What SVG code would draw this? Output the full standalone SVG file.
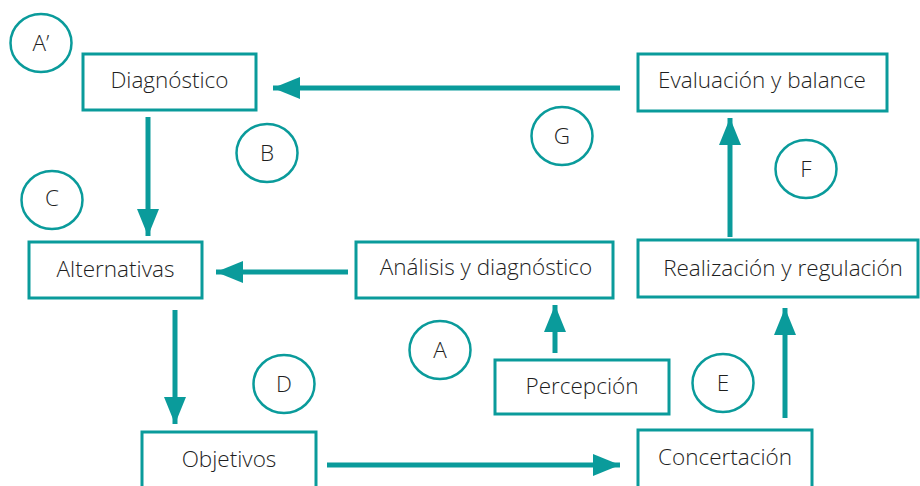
<svg xmlns="http://www.w3.org/2000/svg" width="920" height="486" viewBox="0 0 920 486">
  <style>
    .box { fill: #ffffff; stroke: #0a9b9b; stroke-width: 3; }
    .tag { fill: #ffffff; stroke: #0a9b9b; stroke-width: 2.5; }
    .lbl { font-family: "Open Sans", "Noto Sans", sans-serif; font-size: 22.5px; font-weight: 300; fill: #1e1e1e; text-anchor: middle; dominant-baseline: central; }
    .link { stroke: #0a9b9b; stroke-width: 5; fill: none; marker-end: url(#head); }
  </style>
  <defs>
    <marker id="head" markerUnits="userSpaceOnUse" markerWidth="28" markerHeight="22" refX="27" refY="11" orient="auto">
      <path d="M0,0 L27,11 L0,22 Z" fill="#0a9b9b"/>
    </marker>
  </defs>
  <rect width="920" height="486" fill="#ffffff"/>

  <!-- connectors -->
  <g id="connectors">
    <line class="link" x1="620" y1="88" x2="273" y2="88"/>
    <line class="link" x1="148" y1="117" x2="148" y2="236"/>
    <line class="link" x1="348" y1="272" x2="216" y2="272"/>
    <line class="link" x1="175" y1="310" x2="175" y2="424"/>
    <line class="link" x1="327" y1="465" x2="620" y2="465"/>
    <line class="link" x1="785" y1="418" x2="785" y2="308"/>
    <line class="link" x1="730" y1="237" x2="730" y2="118"/>
    <line class="link" x1="555" y1="353" x2="555" y2="305"/>
  </g>

  <!-- step nodes -->
  <g id="diagnostico">
    <rect class="box" x="83" y="54" width="173" height="56"/>
    <text class="lbl" x="169.5" y="79">Diagnóstico</text>
  </g>
  <g id="evaluacion">
    <rect class="box" x="638" y="54" width="249" height="57"/>
    <text class="lbl" x="762" y="79">Evaluación y balance</text>
  </g>
  <g id="alternativas">
    <rect class="box" x="29" y="242" width="173" height="56"/>
    <text class="lbl" x="115.5" y="268">Alternativas</text>
  </g>
  <g id="analisis">
    <rect class="box" x="356" y="242" width="257" height="56"/>
    <text class="lbl" x="486" y="266">Análisis y diagnóstico</text>
  </g>
  <g id="realizacion">
    <rect class="box" x="638" y="240" width="280" height="57"/>
    <text class="lbl" x="783" y="267">Realización y regulación</text>
  </g>
  <g id="percepcion">
    <rect class="box" x="495" y="360" width="174" height="54"/>
    <text class="lbl" x="582" y="385">Percepción</text>
  </g>
  <g id="objetivos">
    <rect class="box" x="142" y="432" width="174" height="70"/>
    <text class="lbl" x="229" y="458">Objetivos</text>
  </g>
  <g id="concertacion">
    <rect class="box" x="638" y="430" width="174" height="72"/>
    <text class="lbl" x="725" y="456">Concertación</text>
  </g>

  <!-- letter tags -->
  <g id="tag-a-prime">
    <ellipse class="tag" cx="41" cy="43" rx="30.5" ry="29"/>
    <text class="lbl" x="41" y="42">A’</text>
  </g>
  <g id="tag-b">
    <ellipse class="tag" cx="267" cy="153" rx="30.5" ry="29"/>
    <text class="lbl" x="267" y="152">B</text>
  </g>
  <g id="tag-g">
    <ellipse class="tag" cx="562" cy="136" rx="30.5" ry="29"/>
    <text class="lbl" x="562" y="135">G</text>
  </g>
  <g id="tag-f">
    <ellipse class="tag" cx="806" cy="169" rx="30.5" ry="29"/>
    <text class="lbl" x="806" y="168">F</text>
  </g>
  <g id="tag-c">
    <ellipse class="tag" cx="52" cy="200" rx="30.5" ry="29"/>
    <text class="lbl" x="52" y="197">C</text>
  </g>
  <g id="tag-a">
    <ellipse class="tag" cx="440" cy="350" rx="30.5" ry="29"/>
    <text class="lbl" x="440" y="349">A</text>
  </g>
  <g id="tag-d">
    <ellipse class="tag" cx="284" cy="384" rx="30.5" ry="29"/>
    <text class="lbl" x="284" y="383">D</text>
  </g>
  <g id="tag-e">
    <ellipse class="tag" cx="723" cy="383" rx="30.5" ry="29"/>
    <text class="lbl" x="723" y="382">E</text>
  </g>
</svg>
